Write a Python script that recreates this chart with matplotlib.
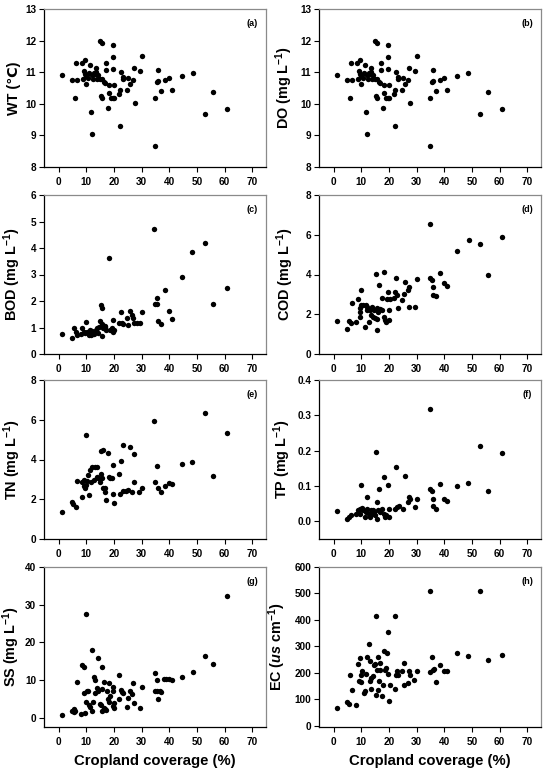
import matplotlib
matplotlib.use("Agg")
import matplotlib.pyplot as plt
from matplotlib.ticker import FormatStrFormatter

plt.rcParams['font.family'] = ['Liberation Sans', 'DejaVu Sans']
plt.rcParams['font.weight'] = 'bold'
plt.rcParams['mathtext.fontset'] = 'custom'
plt.rcParams['mathtext.rm'] = 'Liberation Sans:bold'
plt.rcParams['mathtext.bf'] = 'Liberation Sans:bold'
plt.rcParams['mathtext.it'] = 'Liberation Sans:bold:italic'
plt.rcParams['mathtext.default'] = 'rm'

# ---------------- data ----------------
# (a) WT and (b) DO share the same scatter
x_ab = [1.3, 4.7, 5.8, 6.1, 6.6, 8.3, 9.5, 8.9, 9.2, 9.7, 10.0, 10.0, 10.5, 11.1, 11.3,
        11.6, 11.9, 12.0, 12.3, 12.9, 13.4, 13.6, 13.2, 14.0, 14.3, 15.1, 15.8, 15.0,
        15.3, 15.5, 15.8, 16.3, 16.8, 17.0, 17.3, 18.0, 18.2, 18.3, 18.9, 19.6, 19.8,
        19.8, 20.0, 20.0, 19.5, 21.8, 22.2, 22.2, 22.5, 23.3, 23.3, 24.7, 25.2, 25.9,
        26.9, 27.3, 27.5, 29.3, 30.1, 34.7, 34.9, 35.4, 35.9, 36.0, 37.1, 38.4, 39.9,
        41.0, 44.6, 48.6, 53.0, 55.8, 61.0]
wt = [10.92, 10.76, 10.19, 11.28, 10.76, 11.30, 11.38, 10.77, 11.03, 10.95, 10.64, 10.88,
      10.82, 10.96, 11.22, 9.74, 9.03, 10.90, 10.77, 10.96, 11.12, 11.00, 10.95, 10.77,
      10.90, 11.99, 11.91, 10.78, 10.24, 10.19, 10.80, 10.70, 10.66, 11.07, 11.28, 9.88,
      10.35, 10.59, 10.19, 11.85, 11.49, 11.09, 10.59, 10.19, 10.19, 10.30, 9.29, 10.45,
      11.00, 10.85, 10.78, 10.45, 10.82, 10.62, 10.75, 11.12, 10.02, 11.03, 11.50, 8.66,
      10.17, 10.69, 11.07, 10.73, 10.40, 10.75, 10.81, 10.44, 10.88, 10.96, 9.67, 10.36,
      9.83]
do = list(wt)

x_bod = [1.3, 4.7, 5.7, 6.1, 6.5, 8.1, 8.6, 9.2, 10.0, 10.1, 10.7, 11.3, 11.7, 12.3, 12.8,
         13.4, 13.9, 14.7, 15.3, 15.5, 15.8, 14.9, 15.5, 16.1, 16.7, 17.3, 18.2, 18.6,
         19.2, 19.6, 19.6, 20.1, 9.5, 11.0, 12.0, 14.2, 16.9, 21.8, 22.5, 22.8, 23.3,
         24.7, 25.2, 25.9, 26.6, 27.0, 27.1, 28.3, 29.4, 30.0, 34.6, 34.8, 35.7, 35.4,
         36.0, 37.1, 38.3, 39.8, 41.0, 44.5, 48.4, 52.9, 55.7, 60.8]
bod = [0.74, 0.62, 0.97, 0.84, 0.72, 0.74, 0.97, 0.84, 1.21, 0.84, 0.78, 0.91, 0.72, 0.84,
       0.74, 0.91, 0.97, 1.03, 1.85, 0.69, 1.75, 1.25, 1.12, 0.97, 1.03, 0.91, 3.61, 0.91,
       0.97, 1.27, 0.82, 0.91, 0.80, 0.70, 0.88, 0.80, 1.05, 1.17, 1.60, 1.17, 1.12, 1.37,
       1.09, 1.62, 1.47, 1.35, 1.17, 1.17, 1.18, 1.57, 4.70, 1.87, 1.87, 2.13, 1.25, 1.13,
       2.40, 1.61, 1.33, 2.89, 3.84, 4.20, 1.89, 2.48]

x_cod = [1.3, 4.7, 5.7, 6.2, 6.6, 8.2, 8.9, 9.4, 9.4, 9.5, 10.0, 10.0, 10.6, 11.2, 11.6,
         11.9, 12.2, 12.8, 13.2, 13.4, 14.0, 14.2, 14.6, 14.9, 15.4, 15.6, 15.8, 16.0,
         15.8, 16.5, 16.8, 17.4, 17.6, 18.2, 18.2, 18.6, 19.1, 19.4, 19.7, 20.0, 20.1,
         20.3, 21.8, 22.1, 22.6, 23.0, 23.3, 24.6, 25.3, 25.9, 26.9, 27.4, 27.4, 29.3,
         30.3, 34.7, 35.0, 35.6, 35.9, 36.1, 37.0, 38.6, 39.8, 41.0, 44.5, 48.9, 53.1,
         55.9, 60.9]
cod = [1.68, 1.26, 1.68, 1.54, 2.55, 1.63, 2.75, 2.30, 2.13, 1.88, 3.20, 2.47, 2.47, 1.34,
       2.47, 2.38, 2.21, 1.59, 2.21, 1.96, 2.38, 1.85, 2.21, 1.80, 4.01, 2.30, 1.19, 2.13,
       1.76, 3.47, 2.27, 2.21, 2.83, 4.11, 1.88, 1.71, 1.63, 2.75, 3.14, 1.71, 2.21, 2.75,
       2.80, 3.14, 3.81, 2.97, 2.33, 2.72, 3.00, 3.64, 3.22, 3.36, 2.38, 2.38, 3.78, 6.54,
       3.84, 3.72, 3.39, 2.97, 2.90, 4.08, 3.56, 3.41, 5.18, 5.76, 5.54, 3.98, 5.87]

x_tn = [1.3, 4.7, 5.3, 6.1, 6.6, 8.3, 8.6, 9.0, 9.3, 9.8, 9.5, 10.0, 10.4, 10.7, 11.1,
        11.3, 11.8, 12.2, 12.7, 13.1, 13.7, 14.0, 14.3, 14.9, 15.3, 15.2, 15.5, 15.9,
        16.1, 16.7, 16.9, 17.3, 18.0, 18.2, 18.6, 19.2, 19.5, 19.6, 19.9, 21.8, 22.2,
        22.7, 23.3, 23.3, 24.5, 25.2, 25.9, 26.6, 27.1, 27.3, 29.0, 30.0, 34.6, 35.0,
        35.5, 35.9, 37.1, 38.4, 39.9, 41.0, 44.6, 48.4, 52.9, 55.7, 61.0]
tn = [1.34, 1.88, 1.74, 1.63, 2.92, 2.13, 2.89, 2.68, 2.97, 5.23, 2.55, 2.72, 2.94, 3.22,
      2.21, 3.46, 2.89, 3.64, 2.95, 3.64, 3.14, 3.64, 3.09, 2.89, 4.43, 3.26, 3.05, 2.55,
      4.48, 2.55, 2.38, 1.96, 4.31, 3.14, 3.09, 3.05, 3.72, 2.28, 1.83, 3.26, 2.26, 3.94,
      4.73, 2.42, 2.43, 2.47, 4.65, 2.38, 4.30, 2.85, 2.35, 2.55, 5.94, 2.85, 3.69, 2.55,
      2.38, 2.68, 2.80, 2.75, 3.76, 3.88, 6.33, 3.17, 5.32]

x_tp = [1.3, 4.7, 5.7, 6.2, 8.2, 8.9, 9.4, 9.5, 10.0, 10.4, 10.6, 11.2, 11.6, 12.2, 12.2,
        12.8, 13.2, 13.4, 14.0, 14.3, 14.6, 14.9, 15.4, 15.8, 15.8, 16.0, 16.5, 16.8,
        17.4, 18.2, 18.2, 18.6, 19.1, 19.7, 20.0, 20.1, 22.1, 22.6, 23.0, 23.5, 25.0,
        25.9, 26.9, 27.4, 27.6, 29.3, 30.3, 34.9, 35.0, 35.5, 36.1, 36.1, 37.0, 38.5,
        39.9, 41.0, 44.6, 48.7, 53.1, 55.9, 60.9]
tp = [0.028, 0.008, 0.012, 0.017, 0.022, 0.031, 0.036, 0.022, 0.102, 0.038, 0.031, 0.012,
      0.026, 0.069, 0.036, 0.022, 0.012, 0.031, 0.022, 0.031, 0.026, 0.017, 0.195, 0.055,
      0.008, 0.031, 0.091, 0.026, 0.034, 0.126, 0.022, 0.012, 0.017, 0.104, 0.036, 0.012,
      0.036, 0.154, 0.041, 0.043, 0.036, 0.129, 0.055, 0.069, 0.062, 0.041, 0.062, 0.318,
      0.091, 0.086, 0.064, 0.043, 0.035, 0.106, 0.063, 0.057, 0.101, 0.109, 0.214, 0.086,
      0.194]

x_ss = [1.3, 4.7, 5.4, 5.9, 6.5, 5.5, 8.1, 8.6, 9.5, 9.3, 9.8, 9.8, 9.3, 10.1, 10.7, 11.1,
        11.3, 11.9, 12.2, 12.6, 12.9, 13.1, 13.1, 13.7, 14.1, 14.3, 14.9, 15.3, 15.5, 15.5,
        15.8, 16.3, 16.4, 16.7, 17.2, 17.6, 18.2, 18.0, 18.3, 18.7, 19.6, 19.9, 19.6, 19.8,
        20.1, 21.8, 22.0, 22.4, 22.9, 23.3, 24.6, 25.2, 25.9, 26.6, 26.9, 27.3, 29.3, 30.0,
        34.7, 34.8, 35.4, 35.7, 36.0, 36.6, 37.2, 38.2, 39.0, 39.9, 41.0, 44.5, 48.7, 53.0,
        55.7, 60.8]
ss = [0.9, 1.9, 2.4, 1.85, 9.6, 1.6, 1.15, 13.9, 1.4, 13.4, 4.3, 27.5, 6.5, 7.2, 7.2, 3.4,
      3.0, 17.9, 1.9, 4.3, 10.9, 10.1, 6.7, 7.9, 15.8, 7.2, 3.7, 3.4, 13.4, 1.85, 7.6, 9.6,
      2.6, 2.3, 2.1, 7.2, 9.2, 4.9, 4.3, 5.8, 7.2, 2.6, 3.2, 8.1, 3.9, 4.9, 11.3, 7.4, 7.0,
      6.5, 3.0, 5.2, 7.2, 6.4, 9.2, 3.9, 2.7, 8.1, 12.0, 7.2, 10.1, 7.2, 4.9, 7.2, 7.0, 10.2,
      10.4, 10.2, 10.1, 10.9, 12.2, 16.4, 14.3, 32.4]

x_ec = [1.3, 4.7, 5.5, 6.0, 6.8, 8.2, 8.9, 9.4, 9.0, 9.9, 9.9, 10.3, 11.1, 11.2, 11.6, 12.1,
        12.7, 13.0, 13.3, 13.5, 13.6, 14.1, 14.5, 14.8, 15.2, 15.3, 15.6, 15.9, 16.0, 16.4,
        16.6, 16.9, 17.4, 18.0, 18.2, 18.6, 18.8, 19.3, 19.5, 19.7, 19.9, 20.3, 22.2, 22.2,
        22.7, 22.9, 23.4, 24.6, 25.6, 25.6, 27.0, 27.3, 27.5, 29.1, 30.2, 34.7, 35.0, 35.6,
        35.8, 36.2, 37.0, 38.5, 39.8, 40.9, 44.5, 48.7, 53.1, 55.7, 60.9]
ec = [67, 91, 81, 192, 134, 78, 235, 256, 168, 164, 193, 206, 124, 130, 197, 259, 309, 168,
      246, 139, 180, 187, 231, 233, 414, 116, 211, 135, 259, 170, 237, 212, 113, 153, 281,
      212, 218, 275, 197, 356, 93, 155, 414, 139, 190, 208, 190, 206, 237, 155, 161, 206,
      193, 173, 206, 508, 203, 259, 211, 216, 165, 229, 206, 206, 274, 265, 508, 250, 269]

panel_tags = ['(a)', '(b)', '(c)', '(d)', '(e)', '(f)', '(g)', '(h)']
y_labels = ['WT (\u2103)', 'DO (mg L$^{-1}$)', 'BOD (mg L$^{-1}$)', 'COD (mg L$^{-1}$)',
            'TN (mg L$^{-1}$)', 'TP (mg L$^{-1}$)', 'SS (mg L$^{-1}$)',
            'EC ($\\mathit{us}$ cm$^{-1}$)']
x_label = 'Cropland coverage (%)'
x_ticks = [0, 10, 20, 30, 40, 50, 60, 70]
y_ticks = [[8, 9, 10, 11, 12, 13], [8, 9, 10, 11, 12, 13], [0, 1, 2, 3, 4, 5, 6],
           [0, 2, 4, 6, 8], [0, 2, 4, 6, 8], [0.0, 0.1, 0.2, 0.3, 0.4],
           [0, 10, 20, 30, 40], [0, 100, 200, 300, 400, 500, 600]]
y_lims = [(8, 13), (8, 13), (0, 6), (0, 8), (0, 8), (-0.05, 0.4), (-2.4, 40), (-5, 600)]

xs = [x_ab, x_ab, x_bod, x_cod, x_tn, x_tp, x_ss, x_ec]
ys = [wt, do, bod, cod, tn, tp, ss, ec]

# ---------------- layout ----------------
W, H = 546, 770
fig = plt.figure(figsize=(W / 100, H / 100), dpi=100)
col_left = [44, 319]
ax_w = 222
rows = [(9, 167), (195, 354), (380, 539), (567, 727)]
label_x = [-0.105, -0.11, -0.095, -0.105, -0.095, -0.118, -0.1, -0.14]

for i in range(8):
    r, c = divmod(i, 2)
    top, bot = rows[r]
    ax = fig.add_axes([col_left[c] / W, 1 - bot / H, ax_w / W, (bot - top) / H])
    ax.scatter(xs[i], ys[i], s=15, color='black', linewidths=0, zorder=3)
    ax.set_xlim(-5.3, 75)
    ax.set_ylim(*y_lims[i])
    ax.set_xticks(x_ticks)
    ax.set_yticks(y_ticks[i])
    if i == 5:
        ax.yaxis.set_major_formatter(FormatStrFormatter('%.1f'))
    ax.tick_params(axis='y', direction='out', length=3.5, width=0.8, labelsize=7.2, pad=2)
    ax.tick_params(axis='x', direction='out', length=3.5, width=0.8, labelsize=7.2, pad=4)
    for lab in ax.get_xticklabels() + ax.get_yticklabels():
        lab.set_fontweight('bold')
    for s in ['left', 'bottom']:
        ax.spines[s].set_color('black')
        ax.spines[s].set_linewidth(0.9)
    for s in ['top', 'right']:
        ax.spines[s].set_color('#8a8a8a')
        ax.spines[s].set_linewidth(0.9)
    ax.set_ylabel(y_labels[i], fontsize=10.4, fontweight='bold')
    ax.yaxis.set_label_coords(label_x[i], 0.5)
    ax.text(0.937, 0.91, panel_tags[i], transform=ax.transAxes, fontsize=6.5,
            fontweight='bold', ha='center', va='center')
    if r == 3:
        ax.set_xlabel(x_label, fontsize=10.7, fontweight='bold', labelpad=5)

fig.savefig('out.png', dpi=100)
